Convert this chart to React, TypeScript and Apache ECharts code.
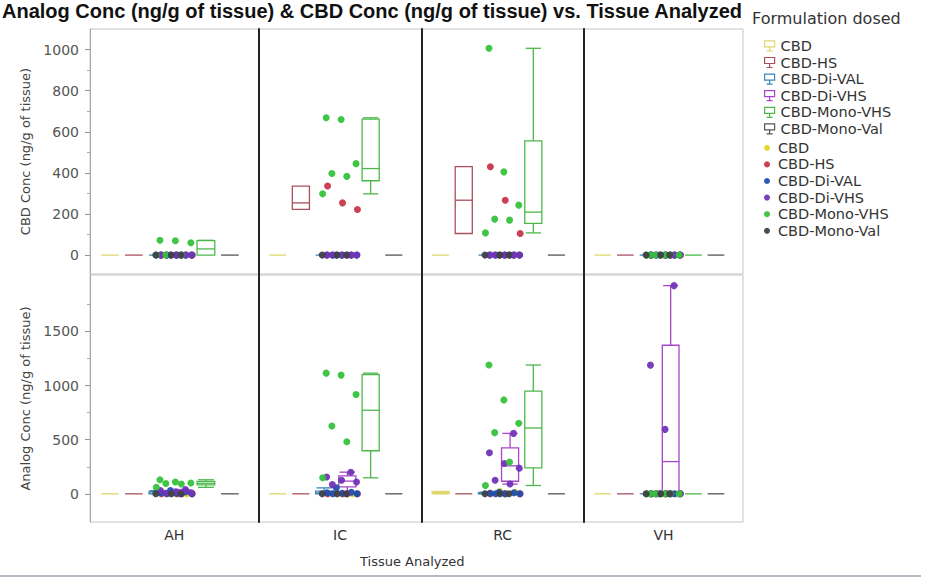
import React, { useEffect, useRef } from "react";
import * as echarts from "echarts";

// ---------------- data ----------------
const tissues = ["AH", "IC", "RC", "VH"];
const formulations = ["CBD", "CBD-HS", "CBD-Di-VAL", "CBD-Di-VHS", "CBD-Mono-VHS", "CBD-Mono-Val"];

// CBD Conc (ng/g of tissue): per formulation, per tissue [AH, IC, RC, VH]
const cbd_CBD = [[0, 0, 0, 0], [0, 0, 0, 0], [0, 0, 0, 0], [0, 0, 0, 0]];
const cbd_HS = [[0, 0, 0], [222, 254, 336], [105, 267, 430], [0, 0, 0]];
const cbd_DiVAL = [[0, 0, 0, 0, 0, 0], [0, 0, 0, 0, 0, 0], [0, 0, 0, 0, 0, 0], [0, 0, 0, 0, 0, 0]];
const cbd_DiVHS = [[0, 0, 0, 0, 0, 0], [0, 0, 0, 0, 0, 0], [0, 0, 0, 0, 0, 0], [0, 0, 0, 0, 0, 0]];
const cbd_MonoVHS = [[0, 0, 0, 60, 70, 72], [298, 383, 397, 445, 660, 668], [108, 170, 175, 243, 405, 1006], [0, 0, 0, 0, 0, 0]];
const cbd_MonoVal = [[0, 0, 0], [0, 0, 0], [0, 0, 0], [0, 0, 0]];

// Analog Conc (ng/g of tissue): per formulation, per tissue [AH, IC, RC, VH]
const an_CBD = [[0, 0, 0, 0], [0, 0, 0, 0], [0, 8, 15, 22], [0, 0, 0, 0]];
const an_HS = [[0, 0, 0], [0, 0, 0], [0, 0, 0], [0, 0, 0]];
const an_DiVAL = [[0, 0, 5, 10, 20, 30], [0, 0, 5, 10, 15, 55], [0, 0, 0, 5, 10, 15], [0, 0, 0, 0, 0, 0]];
const an_DiVHS = [[0, 5, 10, 20, 30, 40], [0, 85, 110, 125, 155, 200], [90, 125, 237, 280, 380, 558], [0, 0, 0, 595, 1188, 1922]];
const an_MonoVHS = [[60, 90, 95, 100, 110, 130], [148, 481, 626, 917, 1096, 1114], [77, 293, 565, 651, 867, 1189], [0, 0, 0, 0, 0, 0]];
const an_MonoVal = [[0, 0, 0], [0, 0, 0], [0, 0, 0], [0, 0, 0]];

const cbdTicks = [0, 200, 400, 600, 800, 1000];
const cbdMinorTicks = [100, 300, 500, 700, 900];
const analogTicks = [0, 500, 1000, 1500];
const analogMinorTicks = [250, 750, 1250, 1750];

const rowData = [
  [cbd_CBD, cbd_HS, cbd_DiVAL, cbd_DiVHS, cbd_MonoVHS, cbd_MonoVal],
  [an_CBD, an_HS, an_DiVAL, an_DiVHS, an_MonoVHS, an_MonoVal],
];

// ---------------- styles ----------------
const boxColors = ["#e0d870", "#a8505e", "#3a86b6", "#a646c8", "#4cb84c", "#555555"];
const pointColors = ["#e6d62a", "#c8364a", "#1f4fb0", "#7234b8", "#36c23c", "#404048"];
const SLOTS = [0.118, 0.26, 0.403, 0.545, 0.688, 0.83];
const BOX_W = 0.105;
const COL_EDGES = [90, 258.5, 421.5, 584, 743];
const ROWS = [
  { top: 29, bottom: 274, name: "CBD Conc (ng/g of tissue)", min: -92, max: 1100, ticks: cbdTicks, minor: cbdMinorTicks },
  { top: 275, bottom: 522, name: "Analog Conc (ng/g of tissue)", min: -260, max: 2020, ticks: analogTicks, minor: analogMinorTicks },
];
const FONT = "DejaVu Sans";

function quantile(s: number[], p: number) {
  const n = s.length;
  const pos = (n + 1) * p;
  if (pos <= 1) return s[0];
  if (pos >= n) return s[n - 1];
  const lo = Math.floor(pos);
  const fr = pos - lo;
  return s[lo - 1] + fr * (s[lo] - s[lo - 1]);
}
function boxStats(vals: number[]) {
  const s = [...vals].sort((a, b) => a - b);
  const q1 = quantile(s, 0.25), med = quantile(s, 0.5), q3 = quantile(s, 0.75);
  const iqr = q3 - q1;
  const lo = s.find((v) => v >= q1 - 1.5 * iqr) as number;
  const hi = [...s].reverse().find((v) => v <= q3 + 1.5 * iqr) as number;
  return [lo, q1, med, q3, hi];
}
function jitterX(f: number, i: number) {
  const t = ((i + 1) * 0.6180339 + f * 0.37) % 1;
  return 0.37 + 0.24 * t;
}

function makeRender(color: string) {
  return (params: any, api: any) => {
    const x = api.value(0);
    const lo = api.value(1), q1 = api.value(2), med = api.value(3), q3 = api.value(4), hi = api.value(5);
    const hw = BOX_W / 2;
    const style = { stroke: color, fill: "transparent", lineWidth: 1.3 };
    const children: any[] = [];
    const line = (a: number[], b: number[]) => ({
      type: "line",
      shape: { x1: a[0], y1: a[1], x2: b[0], y2: b[1] },
      style,
    });
    if (q3 > q1) {
      const a = api.coord([x - hw, q3]);
      const b = api.coord([x + hw, q1]);
      children.push({ type: "rect", shape: { x: a[0], y: a[1], width: b[0] - a[0], height: b[1] - a[1] }, style });
    }
    children.push(line(api.coord([x - hw, med]), api.coord([x + hw, med])));
    const cw = hw * 0.9;
    if (hi > q3) {
      children.push(line(api.coord([x, q3]), api.coord([x, hi])));
      children.push(line(api.coord([x - cw, hi]), api.coord([x + cw, hi])));
    }
    if (lo < q1) {
      children.push(line(api.coord([x, q1]), api.coord([x, lo])));
      children.push(line(api.coord([x - cw, lo]), api.coord([x + cw, lo])));
    }
    return { type: "group", children };
  };
}

function buildOption() {
  const grid: any[] = [];
  const xAxis: any[] = [];
  const yAxis: any[] = [];
  const series: any[] = [];

  ROWS.forEach((r) => {
    for (let c = 0; c < 4; c++) {
      grid.push({
        left: COL_EDGES[c],
        width: COL_EDGES[c + 1] - COL_EDGES[c],
        top: r.top,
        height: r.bottom - r.top,
        show: true,
        borderColor: "#c4c4c4",
        borderWidth: 1,
      });
    }
  });
  for (let g = 0; g < 8; g++) {
    xAxis.push({ type: "value", gridIndex: g, min: 0, max: 1, show: false });
  }
  for (let c = 0; c < 4; c++) {
    xAxis.push({
      type: "category",
      gridIndex: 4 + c,
      data: [tissues[c]],
      position: "bottom",
      axisLine: { show: false },
      axisTick: { show: false },
      axisLabel: { fontSize: 14, color: "#333", fontFamily: FONT, margin: 6 },
    });
  }
  ROWS.forEach((r, ri) => {
    for (let c = 0; c < 4; c++) {
      const g = ri * 4 + c;
      if (c === 0) {
        yAxis.push({
          type: "value",
          gridIndex: g,
          min: r.min,
          max: r.max,
          position: "left",
          name: r.name,
          nameLocation: "middle",
          nameGap: 58,
          nameTextStyle: { fontSize: 13, color: "#444", fontFamily: FONT },
          axisLine: { show: true, lineStyle: { color: "#aaaaaa", width: 1 } },
          axisTick: { show: true, length: 5, lineStyle: { color: "#999" }, customValues: r.ticks },
          axisLabel: {
            fontSize: 14,
            color: "#555",
            fontFamily: FONT,
            margin: 11,
            customValues: r.ticks,
            formatter: (v: number) => String(v),
          },
          splitLine: { show: false },
        });
      } else {
        yAxis.push({
          type: "value",
          gridIndex: g,
          min: r.min,
          max: r.max,
          position: "left",
          axisLine: { show: true, lineStyle: { color: "#222", width: 2 } },
          axisTick: { show: false },
          axisLabel: { show: false },
          splitLine: { show: false },
        });
      }
    }
  });
  ROWS.forEach((r, ri) => {
    yAxis.push({
      type: "value",
      gridIndex: ri * 4,
      min: r.min,
      max: r.max,
      position: "left",
      offset: 0,
      axisLine: { show: false },
      axisTick: { show: true, length: 3, lineStyle: { color: "#aaa" }, customValues: r.minor },
      axisLabel: { show: false },
      splitLine: { show: false },
    });
  });

  ROWS.forEach((r, ri) => {
    for (let c = 0; c < 4; c++) {
      const g = ri * 4 + c;
      for (let f = 0; f < formulations.length; f++) {
        const vals = rowData[ri][f][c];
        series.push({
          name: formulations[f],
          type: "custom",
          xAxisIndex: g,
          yAxisIndex: g,
          silent: true,
          z: 2,
          itemStyle: { color: boxColors[f] },
          encode: { x: 0, y: [1, 2, 3, 4, 5] },
          data: [[SLOTS[f], ...boxStats(vals)]],
          renderItem: makeRender(boxColors[f]),
        });
      }
    }
  });
  ROWS.forEach((r, ri) => {
    for (let c = 0; c < 4; c++) {
      const g = ri * 4 + c;
      for (let f = 0; f < formulations.length; f++) {
        const vals = rowData[ri][f][c];
        series.push({
          name: "pt:" + formulations[f],
          type: "scatter",
          xAxisIndex: g,
          yAxisIndex: g,
          silent: true,
          z: 3,
          symbolSize: 7,
          itemStyle: { color: pointColors[f], opacity: 0.95 },
          data: vals.map((v, i) => [jitterX(f, i), v]),
        });
      }
    }
  });

  const boxIcon = "path://M1,1 H11 V7 H1 Z M6,7 V11 M3,11 H9";
  const legendBase = {
    orient: "vertical",
    left: 759,
    itemWidth: 12,
    itemGap: 0,
    selectedMode: false,
    textStyle: { fontSize: 14.5, color: "#333", fontFamily: FONT, lineHeight: 16.6 },
  };

  return {
    animation: false,
    backgroundColor: "#ffffff",
    title: [
      {
        text: "Analog Conc (ng/g of tissue) & CBD Conc (ng/g of tissue) vs. Tissue Analyzed",
        left: 2,
        top: 1,
        padding: 0,
        textStyle: { fontSize: 20, fontWeight: "bold", color: "#111", fontFamily: "Liberation Sans" },
      },
      {
        text: "Formulation dosed",
        left: 752,
        top: 10,
        padding: 0,
        textStyle: { fontSize: 16, fontWeight: "normal", color: "#333", fontFamily: FONT },
      },
    ],
    legend: [
      {
        ...legendBase,
        top: 32.6,
        itemHeight: 10,
        data: formulations.map((n, f) => ({
          name: n,
          icon: boxIcon,
          itemStyle: { color: "transparent", borderColor: boxColors[f], borderWidth: 1.2 },
        })),
      },
      {
        ...legendBase,
        top: 134.5,
        itemHeight: 6,
        formatter: (n: string) => n.replace(/^pt:/, ""),
        data: formulations.map((n, f) => ({
          name: "pt:" + n,
          icon: "circle",
          itemStyle: { color: pointColors[f] },
        })),
      },
    ],
    graphic: [
      {
        type: "text",
        left: 360,
        top: 555,
        style: { text: "Tissue Analyzed", fontSize: 13, fill: "#333", fontFamily: FONT },
      },
      {
        type: "line",
        shape: { x1: 0, y1: 576, x2: 921, y2: 576 },
        style: { stroke: "#9aa6b2", lineWidth: 1.5 },
      },
    ],
    grid,
    xAxis,
    yAxis,
    series,
  };
}

export default function App() {
  const ref = useRef<HTMLDivElement>(null);
  useEffect(() => {
    const chart = echarts.init(ref.current as HTMLDivElement, null, { renderer: "svg" });
    chart.setOption(buildOption() as any);
    return () => chart.dispose();
  }, []);
  return (
    <div
      ref={ref}
      style={{ position: "fixed", left: 0, top: 0, width: 927, height: 579, background: "#fff" }}
    />
  );
}
